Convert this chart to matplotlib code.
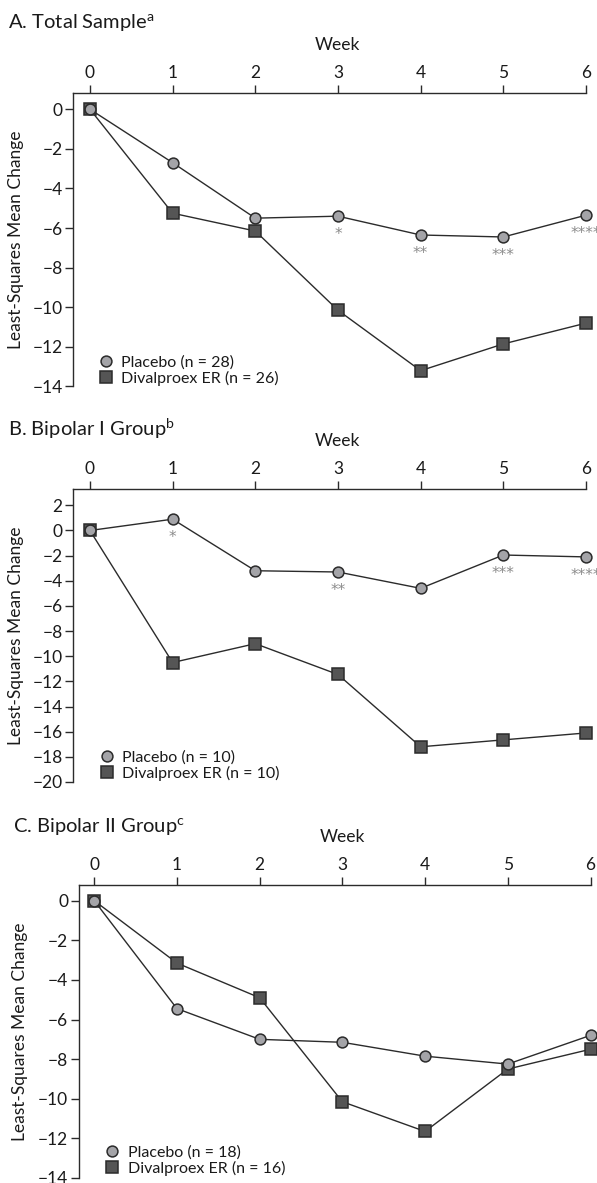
import matplotlib
matplotlib.use("Agg")
import matplotlib.pyplot as plt

plt.rcParams['font.family'] = ['Lato', 'DejaVu Sans']
plt.rcParams['mathtext.fontset'] = 'custom'
plt.rcParams['mathtext.rm'] = 'Lato'
plt.rcParams['mathtext.it'] = 'Lato'

weeks = [0, 1, 2, 3, 4, 5, 6]

a_placebo = [0, -2.7, -5.5, -5.4, -6.35, -6.45, -5.35]
a_dival = [0, -5.25, -6.15, -10.15, -13.2, -11.85, -10.8]
a_stars = ['', '', '', '*', '**', '***', '****']

b_placebo = [0, 0.9, -3.2, -3.3, -4.6, -1.95, -2.1]
b_dival = [0, -10.5, -9.0, -11.45, -17.2, -16.65, -16.1]
b_stars = ['', '*', '', '**', '', '***', '****']

c_placebo = [0, -5.45, -7.0, -7.15, -7.85, -8.25, -6.8]
c_dival = [0, -3.15, -4.9, -10.15, -11.65, -8.5, -7.5]
c_stars = ['', '', '', '', '', '', '']

titles = ['A. Total Sample$^{\\mathrm{a}}$', 'B. Bipolar I Group$^{\\mathrm{b}}$',
          'C. Bipolar II Group$^{\\mathrm{c}}$']
placebo_labels = ['Placebo (n = 28)', 'Placebo (n = 10)', 'Placebo (n = 18)']
dival_labels = ['Divalproex ER (n = 26)', 'Divalproex ER (n = 10)', 'Divalproex ER (n = 16)']
yticks_list = [list(range(0, -15, -2)), list(range(2, -21, -2)), list(range(0, -15, -2))]

W, H = 597, 1183
fig = plt.figure(figsize=(W / 100, H / 100), dpi=100)

# pixel layouts: left spine, x=6 px, top px, bottom px, ylim, title (x, baseline), week y,
# legend anchor (left px, center px), ylabel x
layouts = [
    dict(L=73, R=586, T=93, B=386.5, ylim=(-14, 0.82), xl=-0.205,
         tx=8, ty=28, wy=45, leg=(98, 370.5), yl=24),
    dict(L=73, R=586, T=489, B=782, ylim=(-20, 3.3), xl=-0.205,
         tx=8, ty=436, wy=441, leg=(99, 765.5), yl=24),
    dict(L=78.5, R=590.5, T=885, B=1178, ylim=(-14, 0.79), xl=-0.19,
         tx=13, ty=832, wy=837, leg=(104.5, 1160.5), yl=28.5),
]
data = [(a_placebo, a_dival, a_stars), (b_placebo, b_dival, b_stars),
        (c_placebo, c_dival, c_stars)]

edge = '#2b2b2b'
for i, lay in enumerate(layouts):
    L, R, T, B = lay['L'], lay['R'], lay['T'], lay['B']
    ax = fig.add_axes([L / W, 1 - B / H, (R - L) / W, (B - T) / H])
    pl, dv, st = data[i]
    ax.plot(weeks, pl, color=edge, lw=1.0, marker='o', ms=7.8, mfc='#a4a4a8',
            mec=edge, mew=1.1, clip_on=False, zorder=4, label=placebo_labels[i])
    ax.plot(weeks, dv, color=edge, lw=1.0, marker='s', ms=8, mfc='#555555',
            mec=edge, mew=1.1, clip_on=False, zorder=3, label=dival_labels[i])
    for w, v, s in zip(weeks, pl, st):
        if s:
            ax.annotate(s, (w, v), xytext=(0, -16.7), textcoords='offset points',
                        ha='center', va='baseline', fontsize=11, color='#8c8c8c',
                        family='DejaVu Sans', annotation_clip=False)
    ax.set_xlim(lay['xl'], 6)
    ax.set_ylim(*lay['ylim'])
    ax.set_xticks(weeks)
    ax.set_yticks(yticks_list[i])
    ax.set_yticklabels([str(t).replace('-', '\u2212') for t in yticks_list[i]])
    ax.xaxis.tick_top()
    ax.spines['right'].set_visible(False)
    ax.spines['bottom'].set_visible(False)
    for sp in ('top', 'left'):
        ax.spines[sp].set_color(edge)
        ax.spines[sp].set_linewidth(1.0)
    ax.tick_params(axis='both', direction='out', length=5.5, width=1.0, color=edge,
                   labelsize=12.5, labelcolor='#1a1a1a')
    ax.tick_params(axis='x', pad=3)
    ax.tick_params(axis='y', pad=2)
    ax.patch.set_alpha(0)
    ax.set_ylabel('Least-Squares Mean Change', fontsize=12.5, color='#1a1a1a')
    ax.yaxis.set_label_coords((lay['yl'] - L) / (R - L), 0.5)
    fig.text(lay['tx'] / W, 1 - lay['ty'] / H, titles[i], fontsize=14.5,
             color='#1a1a1a', va='baseline', ha='left')
    xc = (L + R) / 2 + 8
    fig.text(xc / W, 1 - lay['wy'] / H, 'Week', fontsize=12.5, color='#1a1a1a',
             ha='center', va='center')
    lx, ly = lay['leg']
    ax.legend(loc='center left', bbox_to_anchor=((lx - L) / (R - L), (B - ly) / (B - T)),
              frameon=False, fontsize=11.5, handlelength=1.0, handletextpad=0.45,
              labelspacing=0.1, borderpad=0, borderaxespad=0, markerscale=1.0,
              labelcolor='#1a1a1a')
    for h in ax.get_legend().legend_handles:
        h.set_linestyle('none')

fig.savefig('out.png', dpi=100)
